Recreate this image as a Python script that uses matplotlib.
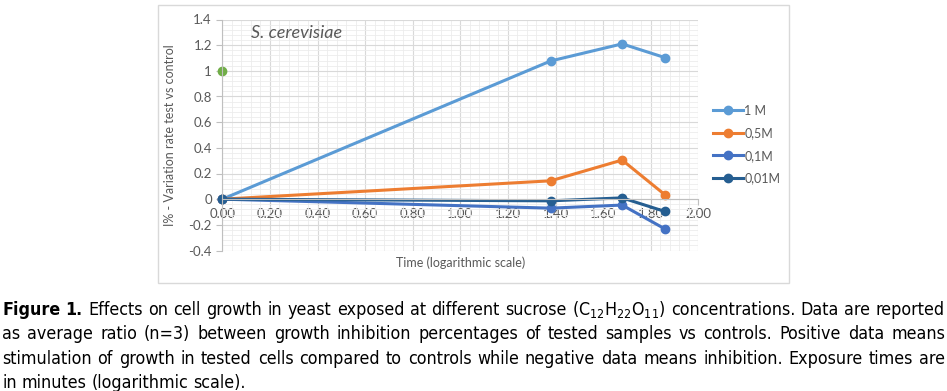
import matplotlib
matplotlib.use('Agg')
import matplotlib.pyplot as plt
from matplotlib import font_manager
from matplotlib.patches import Rectangle
from matplotlib.ticker import MultipleLocator, FuncFormatter

# log10 of exposure time (min): 0, 24, 48, 72
log_time = [0.0, 1.38, 1.68, 1.86]
series_names = ['1 M', '0,5M', '0,1M', '0,01M']
y_1M = [0.0, 1.077, 1.21, 1.103]
y_05M = [0.0, 0.143, 0.305, 0.034]
y_01M = [0.0, -0.07, -0.046, -0.232]
y_001M = [0.0, -0.013, 0.01, -0.096]
colors = ['#5B9BD5', '#ED7D31', '#4472C4', '#255E91']
ref_x = [0.0]
ref_y = [1.0]

caption_lines = [
    'Figure 1. Effects on cell growth in yeast exposed at different sucrose (C$_{12}$H$_{22}$O$_{11}$) concentrations. Data are reported',
    'as average ratio (n=3) between growth inhibition percentages of tested samples vs controls. Positive data means',
    'stimulation of growth in tested cells compared to controls while negative data means inhibition. Exposure times are',
    'in minutes (logarithmic scale).',
]

fonts = font_manager.fontManager.ttflist
names = {f.name for f in fonts}
chart_font = 'Lato' if 'Lato' in names else 'DejaVu Sans'

# look for a narrow face for the caption
cap_font, cap_stretch = 'Liberation Sans', 'normal'
for f in fonts:
    narrow = ('Narrow' in f.name or 'Condensed' in f.name or
              f.stretch in ('condensed', 'semi-condensed', 500 - 100, 300) or
              'ondensed' in f.fname or 'Narrow' in f.fname)
    if narrow and f.style == 'normal' and f.weight in (400, 'normal', 'regular'):
        cap_font, cap_stretch = f.name, f.stretch
        break

plt.rcParams['font.family'] = [chart_font, 'DejaVu Sans']
plt.rcParams['mathtext.default'] = 'regular'

W, H = 947, 391
fig = plt.figure(figsize=(W / 100, H / 100), dpi=100)
txt = '#595959'

# chart frame
fig.patches.append(Rectangle((158 / W, 1 - 283 / H), 631 / W, 278 / H, transform=fig.transFigure,
                             fill=False, edgecolor='#d9d9d9', lw=1))

ax = fig.add_axes([222.3 / W, 1 - 250.5 / H, 476 / W, 231 / H])
ax.set_xlim(0, 2)
ax.set_ylim(-0.4, 1.4)
ax.xaxis.set_major_locator(MultipleLocator(0.2))
ax.xaxis.set_minor_locator(MultipleLocator(0.04))
ax.yaxis.set_major_locator(MultipleLocator(0.2))
ax.yaxis.set_minor_locator(MultipleLocator(0.04))
ax.xaxis.set_major_formatter(FuncFormatter(lambda v, p: '%.2f' % v))
ax.yaxis.set_major_formatter(FuncFormatter(lambda v, p: '%g' % round(v, 2)))
ax.grid(which='major', color='#d9d9d9', lw=0.8)
ax.grid(which='minor', color='#ececec', lw=0.6)
ax.set_axisbelow(True)
for s in ['top', 'right']:
    ax.spines[s].set_visible(False)
ax.spines['bottom'].set_position(('data', 0))
ax.spines['bottom'].set_color('#bfbfbf')
ax.spines['left'].set_color('#bfbfbf')
ax.tick_params(which='major', length=4, color='#bfbfbf', labelcolor=txt, labelsize=9.5)
ax.tick_params(which='minor', length=0)
ax.tick_params(axis='x', pad=2)

for ys, name, c in zip([y_1M, y_05M, y_01M, y_001M], series_names, colors):
    ax.plot(log_time, ys, color=c, lw=2.2, marker='o', ms=6, label=name, clip_on=False)
ax.plot(ref_x, ref_y, color='#70AD47', marker='o', ms=6, ls='none', clip_on=False)

ax.text(0.06, 0.94, 'S. cerevisiae', transform=ax.transAxes, style='italic', fontsize=13,
        color=txt, va='center', ha='left')
ax.set_ylabel('I% - Variation rate test vs control', color=txt, fontsize=9)
ax.yaxis.set_label_coords(-0.097, 0.5)
ax.set_xlabel('Time (logarithmic scale)', color=txt, fontsize=9)
ax.xaxis.set_label_coords(0.5, -0.025)

ax.legend(loc='center left', bbox_to_anchor=(713 / W, 1 - 144.5 / H), bbox_transform=fig.transFigure,
          frameon=False, borderpad=0, borderaxespad=0, handlelength=2.4, handletextpad=0.1,
          labelspacing=0.85, fontsize=9, labelcolor=txt)

# justified caption
renderer = fig.canvas.get_renderer()


def make_words(line, size):
    out = []
    for i, w in enumerate(line.split(' ')):
        bold = line.startswith('Figure 1.') and i < 2
        t = fig.text(0, 0, w, fontsize=size, family=[cap_font, 'DejaVu Sans'], stretch=cap_stretch,
                     weight='bold' if bold else 'normal', color='#000000', va='baseline', ha='left')
        out.append(t)
    return out


def widths(words):
    return [t.get_window_extent(renderer).width for t in words]


size = 12.8
probe = fig.text(0, 0, 'x x', fontsize=size, family=[cap_font], stretch=cap_stretch)
probe2 = fig.text(0, 0, 'xx', fontsize=size, family=[cap_font], stretch=cap_stretch)
space = probe.get_window_extent(renderer).width - probe2.get_window_extent(renderer).width
probe.remove()
probe2.remove()
natural = 0
for line in caption_lines[:3]:
    ws = make_words(line, size)
    natural = max(natural, sum(widths(ws)) + space * (len(ws) - 1))
    for t in ws:
        t.remove()
if natural > 935:
    space *= 935 / natural
    size *= 935 / natural

x0, x1 = 2, 945
baselines = [315, 339.3, 363.6, 388]
for k, line in enumerate(caption_lines):
    ws = make_words(line, size)
    wd = widths(ws)
    gap = space if k == len(caption_lines) - 1 else (x1 - x0 - sum(wd)) / (len(ws) - 1)
    x = x0
    for t, w in zip(ws, wd):
        t.set_position((x / W, 1 - baselines[k] / H))
        x += w + gap

fig.savefig('out.png', dpi=100)
